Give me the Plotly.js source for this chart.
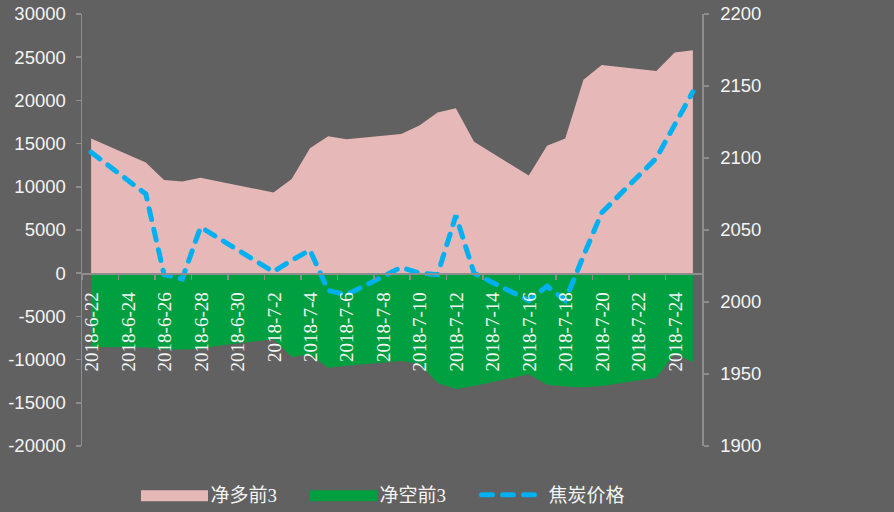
<!DOCTYPE html>
<html>
<head>
<meta charset="utf-8">
<script src="https://cdn.plot.ly/plotly-3.0.1.min.js"></script>
<style>
  html, body { margin: 0; padding: 0; background: #616161; }
  #chart { width: 894px; height: 512px; }
  path.js-line { stroke-linecap: round !important; }
  .legend .traces:nth-child(1) .legendfill path { stroke: #e6b8b7 !important; stroke-width: 5px !important; }
  .legend .traces:nth-child(2) .legendfill path { stroke: #00a040 !important; stroke-width: 5px !important; }
</style>
</head>
<body>
<div id="chart"></div>
<script>
// Trading days
const dates = ['2018-06-22','2018-06-25','2018-06-26','2018-06-27','2018-06-28','2018-06-29',
  '2018-07-02','2018-07-03','2018-07-04','2018-07-05','2018-07-06',
  '2018-07-09','2018-07-10','2018-07-11','2018-07-12','2018-07-13',
  '2018-07-16','2018-07-17','2018-07-18','2018-07-19','2018-07-20',
  '2018-07-23','2018-07-24','2018-07-25'];

// 净多前3
const netLong = [15600, 12800, 10800, 10600, 11050, 10600,
  9350, 10900, 14450, 15850, 15500,
  16100, 17100, 18600, 19100, 15200,
  11300, 14750, 15600, 22400, 24100,
  23400, 25550, 25800];

// 净空前3
const netShort = [-8530, -8600, -8800, -8840, -8760, -8400,
  -7640, -9700, -9420, -10930, -10700,
  -10150, -10460, -12700, -13400, -13050,
  -11700, -12900, -13100, -13200, -13050,
  -12100, -9300, -10300];

// 焦炭价格
const price = [2104, 2075, 2019, 2016, 2052, 2044,
  2021, 2029, 2036, 2008, 2005,
  2024, 2020, 2019, 2060, 2020,
  2001, 2011, 2001, 2032, 2062,
  2100, 2123, 2146];

// x tick labels (every 2 days)
const xLabelDates = ['2018-06-22','2018-06-24','2018-06-26','2018-06-28','2018-06-30',
  '2018-07-02','2018-07-04','2018-07-06','2018-07-08','2018-07-10','2018-07-12',
  '2018-07-14','2018-07-16','2018-07-18','2018-07-20','2018-07-22','2018-07-24'];
const xLabels = ['2018-6-22','2018-6-24','2018-6-26','2018-6-28','2018-6-30',
  '2018-7-2','2018-7-4','2018-7-6','2018-7-8','2018-7-10','2018-7-12',
  '2018-7-14','2018-7-16','2018-7-18','2018-7-20','2018-7-22','2018-7-24'];

const yLeftTicks = [-20000,-15000,-10000,-5000,0,5000,10000,15000,20000,25000,30000];
const yLeftLabels = ['-20000','-15000','-10000','-5000','0','5000','10000','15000','20000','25000','30000'];
const yRightTicks = [1900,1950,2000,2050,2100,2150,2200];

// Ticks sit half a day before each labelled day (Excel "between tick marks")
function shiftHalfDay(d) {
  const t = new Date(d + 'T00:00:00Z').getTime() - 12*3600*1000;
  return new Date(t).toISOString().slice(0,19).replace('T',' ');
}
const xTickVals = xLabelDates.map(shiftHalfDay);

const axisGray = '#8e8e8e';
const white = '#f4f4f4';

const traces = [
  { x: dates, y: netLong, name: '净多前3', type: 'scatter', mode: 'lines',
    fill: 'tozeroy', fillcolor: '#e6b8b7', line: { width: 0, color: '#e6b8b7' } },
  { x: dates, y: netShort, name: '净空前3', type: 'scatter', mode: 'lines',
    fill: 'tozeroy', fillcolor: '#00a040', line: { width: 0, color: '#00a040' } },
  { x: dates, y: price, name: '焦炭价格', type: 'scatter', mode: 'lines', yaxis: 'y2',
    line: { color: '#00b0f0', width: 5, dash: '11px,10px' } }
];

const layout = {
  width: 894, height: 512,
  paper_bgcolor: '#616161', plot_bgcolor: '#616161',
  margin: { l: 82, r: 192, t: 14, b: 66, autoexpand: false },
  showlegend: true,
  legend: {
    orientation: 'h', x: 0.5, xanchor: 'center', y: -0.113, yanchor: 'middle',
    font: { family: 'Liberation Serif, Noto Sans CJK SC, serif', size: 19, color: white },
    itemwidth: 62, entrywidth: 92, entrywidthmode: 'pixels',
    bgcolor: 'rgba(0,0,0,0)', traceorder: 'normal'
  },
  xaxis: {
    type: 'date',
    range: ['2018-06-21 12:00', '2018-07-25 12:00'],
    anchor: 'free', position: 0.4,
    tickmode: 'array', tickvals: xTickVals, ticktext: xLabels,
    tickangle: -90, ticklabelshift: 10, ticklabelstandoff: 5,
    ticks: 'outside', ticklen: 5, tickcolor: axisGray, tickwidth: 1.5,
    showline: true, linecolor: axisGray, linewidth: 1.5,
    showgrid: false, zeroline: false,
    tickfont: { family: 'Liberation Serif, serif', size: 19, color: white },
    layer: 'above traces'
  },
  yaxis: {
    range: [-20000, 30000],
    tickmode: 'array', tickvals: yLeftTicks, ticktext: yLeftLabels,
    ticks: 'outside', ticklen: 5, tickcolor: axisGray, tickwidth: 1.5,
    ticklabelstandoff: 6,
    showline: true, linecolor: axisGray, linewidth: 1.5,
    showgrid: false, zeroline: false,
    tickfont: { family: 'Liberation Sans, Arial, sans-serif', size: 18.5, color: white }
  },
  yaxis2: {
    overlaying: 'y', side: 'right', anchor: 'x',
    range: [1900, 2200],
    tickmode: 'array', tickvals: yRightTicks,
    ticks: 'outside', ticklen: 5, tickcolor: axisGray, tickwidth: 1.5,
    ticklabelstandoff: 8,
    showline: true, linecolor: axisGray, linewidth: 1.5,
    showgrid: false, zeroline: false,
    tickfont: { family: 'Liberation Sans, Arial, sans-serif', size: 18.5, color: white }
  }
};

Plotly.newPlot('chart', traces, layout, { displayModeBar: false, staticPlot: true });
</script>
</body>
</html>
